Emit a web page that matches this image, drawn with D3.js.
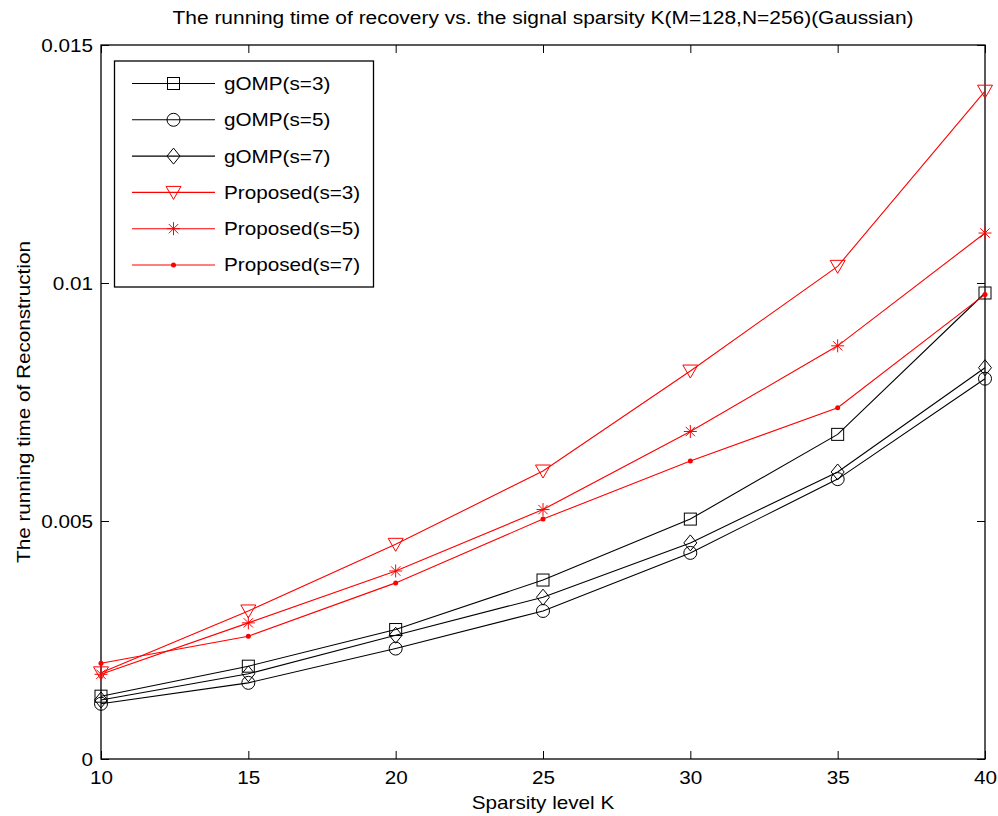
<!DOCTYPE html>
<html><head><meta charset="utf-8">
<script src="https://cdn.jsdelivr.net/npm/d3@7"></script>
<style>body{margin:0;background:#fff}svg{display:block}text{font-family:"Liberation Sans",Arial,sans-serif}</style>
</head><body>
<script>
const K = [10, 15, 20, 25, 30, 35, 40];
const gomp3 = [0.00132, 0.00195, 0.00272, 0.00376, 0.00504, 0.00682, 0.00979];
const gomp5 = [0.00116, 0.00160, 0.00232, 0.00311, 0.00433, 0.00588, 0.00799];
const gomp7 = [0.00124, 0.00179, 0.00260, 0.00340, 0.00454, 0.00603, 0.00822];
const prop3 = [0.00181, 0.00311, 0.00451, 0.00605, 0.00815, 0.01035, 0.01403];
const prop5 = [0.00178, 0.00286, 0.00395, 0.00524, 0.00688, 0.00868, 0.01105];
const prop7 = [0.00201, 0.00258, 0.00370, 0.00504, 0.00626, 0.00738, 0.00976];
const seriesNames = ["gOMP(s=3)", "gOMP(s=5)", "gOMP(s=7)", "Proposed(s=3)", "Proposed(s=5)", "Proposed(s=7)"];
const xTicks = [10, 15, 20, 25, 30, 35, 40];
const yTicks = [0, 0.005, 0.01, 0.015];
const yTickLabels = ["0", "0.005", "0.01", "0.015"];
const title = "The running time of recovery vs. the signal sparsity K(M=128,N=256)(Gaussian)";
const xLabel = "Sparsity level K";
const yLabel = "The running time of Reconstruction";

const series = [
  {name: seriesNames[0], values: gomp3, color: "#000", marker: "square"},
  {name: seriesNames[1], values: gomp5, color: "#000", marker: "circle"},
  {name: seriesNames[2], values: gomp7, color: "#000", marker: "diamond"},
  {name: seriesNames[3], values: prop3, color: "#ff0000", marker: "triangle"},
  {name: seriesNames[4], values: prop5, color: "#ff0000", marker: "star"},
  {name: seriesNames[5], values: prop7, color: "#ff0000", marker: "dot"}
];

const W = 998, H = 816;
const L = 101, R = 985, T = 45, B = 759;
const FS = 18, SX = 1.15;
const svg = d3.select("body").append("svg").attr("width", W).attr("height", H);
const x = d3.scaleLinear().domain([10, 40]).range([L, R]);
const y = d3.scaleLinear().domain([0, 0.015]).range([B, T]);

const tickLen = 8;
const xAxis = d3.axisBottom(x).tickValues(xTicks).tickFormat(d3.format("d")).tickSizeInner(-tickLen).tickSizeOuter(0);
const gx = svg.append("g").attr("transform", `translate(0,${B})`).call(xAxis);
const xAxisTop = d3.axisTop(x).tickValues(xTicks).tickFormat("").tickSizeInner(-tickLen).tickSizeOuter(0);
const gxt = svg.append("g").attr("transform", `translate(0,${T})`).call(xAxisTop);
const yAxis = d3.axisLeft(y).tickValues(yTicks).tickFormat((d, i) => yTickLabels[i]).tickSizeInner(-tickLen).tickSizeOuter(0);
const gy = svg.append("g").attr("transform", `translate(${L},0)`).call(yAxis);
const yAxisR = d3.axisRight(y).tickValues(yTicks).tickFormat("").tickSizeInner(-tickLen).tickSizeOuter(0);
const gyr = svg.append("g").attr("transform", `translate(${R},0)`).call(yAxisR);
[gx, gxt, gy, gyr].forEach(g => {
  g.select(".domain").remove();
  g.selectAll("line").attr("stroke", "#000").attr("stroke-width", 1);
  g.selectAll("text").attr("font-size", FS).attr("fill", "#000").style("font-family", '"Liberation Sans",Arial,sans-serif');
});
gx.selectAll("text").attr("x", 0).attr("y", 0).attr("dy", null)
  .attr("transform", `translate(0,25) scale(${SX},1)`);
gy.selectAll("text").attr("x", 0).attr("dy", "0.36em")
  .attr("transform", `translate(-8,0) scale(${SX},1)`);
svg.append("rect").attr("x", L).attr("y", T).attr("width", R - L).attr("height", B - T)
  .attr("fill", "none").attr("stroke", "#000").attr("stroke-width", 1.3);

function drawMarker(g, type, cx, cy, color) {
  if (type === "square") {
    g.append("rect").attr("x", cx - 6).attr("y", cy - 6).attr("width", 12).attr("height", 12)
      .attr("fill", "none").attr("stroke", color).attr("stroke-width", 1);
  } else if (type === "circle") {
    g.append("circle").attr("cx", cx).attr("cy", cy).attr("r", 6.5)
      .attr("fill", "none").attr("stroke", color).attr("stroke-width", 1);
  } else if (type === "diamond") {
    g.append("path").attr("d", `M${cx},${cy - 8}L${cx + 6.5},${cy}L${cx},${cy + 8}L${cx - 6.5},${cy}Z`)
      .attr("fill", "none").attr("stroke", color).attr("stroke-width", 1);
  } else if (type === "triangle") {
    g.append("path").attr("d", `M${cx - 7.5},${cy - 6}L${cx + 7.5},${cy - 6}L${cx},${cy + 7}Z`)
      .attr("fill", "none").attr("stroke", color).attr("stroke-width", 1);
  } else if (type === "star") {
    const r = 6.5;
    const d = `M${cx - r},${cy}L${cx + r},${cy}M${cx},${cy - r}L${cx},${cy + r}` +
      `M${cx - r * 0.72},${cy - r * 0.72}L${cx + r * 0.72},${cy + r * 0.72}M${cx - r * 0.72},${cy + r * 0.72}L${cx + r * 0.72},${cy - r * 0.72}`;
    g.append("path").attr("d", d).attr("fill", "none").attr("stroke", color).attr("stroke-width", 1);
  } else if (type === "dot") {
    g.append("circle").attr("cx", cx).attr("cy", cy).attr("r", 2.5).attr("fill", color);
  }
}

const line = d3.line().x((d, i) => x(K[i])).y(d => y(d));
const plot = svg.append("g");
series.forEach(s => {
  const g = plot.append("g");
  g.append("path").attr("d", line(s.values)).attr("fill", "none").attr("stroke", s.color).attr("stroke-width", 1.1);
  s.values.forEach((v, i) => drawMarker(g, s.marker, x(K[i]), y(v), s.color));
});

const lg = svg.append("g");
lg.append("rect").attr("x", 114.5).attr("y", 61).attr("width", 259).attr("height", 226)
  .attr("fill", "#fff").attr("stroke", "#000").attr("stroke-width", 1.3);
series.forEach((s, i) => {
  const ly = 83.5 + i * 36.3;
  lg.append("line").attr("x1", 132).attr("x2", 215).attr("y1", ly).attr("y2", ly)
    .attr("stroke", s.color).attr("stroke-width", 1.1);
  drawMarker(lg, s.marker, 173.5, ly, s.color);
  lg.append("text").attr("transform", `translate(224,${ly}) scale(${SX},1)`).attr("dy", "0.36em")
    .attr("font-size", FS).text(s.name);
});

svg.append("text").attr("x", 543).attr("y", 24).attr("text-anchor", "middle")
  .attr("font-size", 18).attr("textLength", 741).attr("lengthAdjust", "spacingAndGlyphs").text(title);
svg.append("text").attr("transform", `translate(543,809) scale(${SX},1)`).attr("text-anchor", "middle")
  .attr("font-size", FS).text(xLabel);
svg.append("text").attr("transform", `translate(30,${(T + B) / 2}) rotate(-90) scale(${SX},1)`).attr("text-anchor", "middle")
  .attr("font-size", FS).text(yLabel);
</script>
</body></html>
